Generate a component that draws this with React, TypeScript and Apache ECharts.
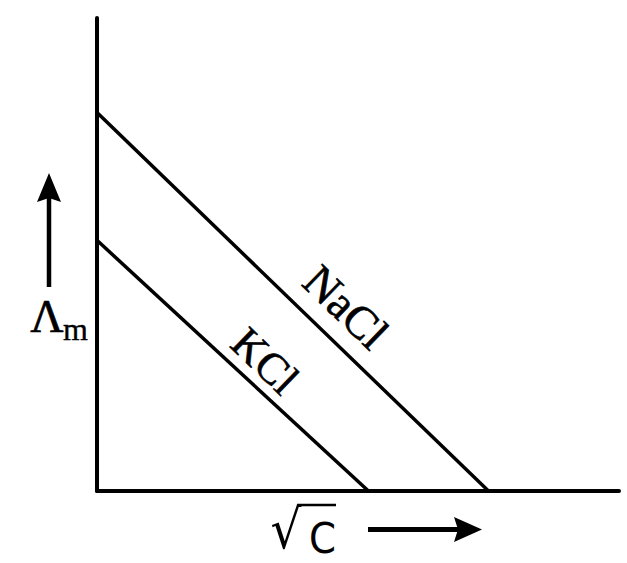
import React, { useEffect, useRef } from "react";
import * as echarts from "echarts";

const seriesNames = ["NaCl", "KCl"];
const naclPoints: [number, number][] = [
  [0, 8.0],
  [7.5, 0],
];
const kclPoints: [number, number][] = [
  [0, 5.3],
  [5.2, 0],
];
const xRange = [0, 10];
const yRange = [0, 10];

export default function App() {
  const ref = useRef<HTMLDivElement>(null);
  useEffect(() => {
    if (!ref.current) return;
    const chart = echarts.init(ref.current, undefined, { renderer: "svg" });
    const rot = (-44 * Math.PI) / 180;
    const serif = "'Liberation Serif', 'Times New Roman', serif";
    const sans = "'DejaVu Sans', sans-serif";
    chart.setOption({
      animation: false,
      backgroundColor: "#fff",
      grid: { left: 97, right: 8, top: 18, bottom: 72 },
      xAxis: {
        type: "value",
        min: xRange[0],
        max: xRange[1],
        axisLine: { show: true, lineStyle: { color: "#000", width: 4 } },
        axisTick: { show: false },
        axisLabel: { show: false },
        splitLine: { show: false },
      },
      yAxis: {
        type: "value",
        min: yRange[0],
        max: yRange[1],
        axisLine: { show: true, lineStyle: { color: "#000", width: 4 } },
        axisTick: { show: false },
        axisLabel: { show: false },
        splitLine: { show: false },
      },
      series: [
        {
          name: seriesNames[0],
          type: "line",
          data: naclPoints,
          symbol: "none",
          lineStyle: { color: "#000", width: 3.5 },
        },
        {
          name: seriesNames[1],
          type: "line",
          data: kclPoints,
          symbol: "none",
          lineStyle: { color: "#000", width: 3.5 },
        },
      ],
      graphic: [
        {
          type: "text",
          x: 346,
          y: 307,
          rotation: rot,
          style: {
            text: seriesNames[0],
            font: `46px ${serif}`,
            fill: "#000",
            stroke: "#000",
            lineWidth: 0.6,
            textAlign: "center",
            textVerticalAlign: "middle",
          },
        },
        {
          type: "text",
          x: 265,
          y: 361,
          rotation: rot,
          style: {
            text: seriesNames[1],
            font: `44px ${serif}`,
            fill: "#000",
            stroke: "#000",
            lineWidth: 0.6,
            textAlign: "center",
            textVerticalAlign: "middle",
          },
        },
        {
          type: "text",
          x: 47,
          y: 316,
          style: {
            text: "Λ",
            font: `46px ${serif}`,
            fill: "#000",
            stroke: "#000",
            lineWidth: 0.6,
            textAlign: "center",
            textVerticalAlign: "middle",
          },
        },
        {
          type: "text",
          x: 75.5,
          y: 329,
          style: {
            text: "m",
            font: `32px ${serif}`,
            fill: "#000",
            stroke: "#000",
            lineWidth: 0.4,
            textAlign: "center",
            textVerticalAlign: "middle",
          },
        },
        {
          type: "text",
          x: 286,
          y: 529,
          scaleX: 0.9,
          style: {
            text: "√",
            font: `54px ${sans}`,
            fill: "#000",
            textAlign: "center",
            textVerticalAlign: "middle",
          },
        },
        {
          type: "line",
          shape: { x1: 297, y1: 505, x2: 336, y2: 505 },
          style: { stroke: "#000", lineWidth: 2.5 },
        },
        {
          type: "text",
          x: 322.5,
          y: 538,
          scaleX: 0.9,
          style: {
            text: "C",
            font: `43px ${sans}`,
            fill: "#000",
            textAlign: "center",
            textVerticalAlign: "middle",
          },
        },
        {
          type: "line",
          shape: { x1: 49, y1: 287, x2: 49, y2: 198 },
          style: { stroke: "#000", lineWidth: 4.5 },
        },
        {
          type: "polygon",
          shape: {
            points: [
              [49, 173],
              [61, 202],
              [49, 198],
              [37, 202],
            ],
          },
          style: { fill: "#000" },
        },
        {
          type: "line",
          shape: { x1: 368, y1: 529.5, x2: 458, y2: 529.5 },
          style: { stroke: "#000", lineWidth: 5 },
        },
        {
          type: "polygon",
          shape: {
            points: [
              [454, 517],
              [482, 529.5],
              [454, 542],
              [458, 529.5],
            ],
          },
          style: { fill: "#000" },
        },
      ],
    });
    return () => chart.dispose();
  }, []);
  return (
    <div
      ref={ref}
      style={{ position: "absolute", left: 0, top: 0, width: 627, height: 563 }}
    />
  );
}
